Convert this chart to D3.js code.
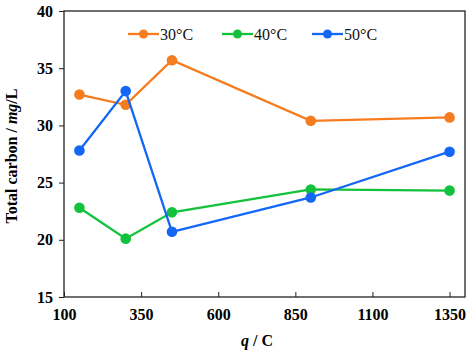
<!DOCTYPE html>
<html lang="en">
<head>
<meta charset="utf-8">
<title>Total carbon</title>
<script src="https://d3js.org/d3.v7.min.js"></script>
<style>
    body { margin: 0; background: #fff; }
</style>
</head>
<body>
<svg id="chart" width="470" height="353"></svg>
<script>
// data
let charge = [150, 300, 450, 900, 1350];
let t30 = [32.7, 31.8, 35.7, 30.4, 30.7];
let t40 = [22.8, 20.1, 22.4, 24.4, 24.3];
let t50 = [27.8, 33.0, 20.7, 23.7, 27.7];
let seriesNames = ["30°C", "40°C", "50°C"];
let xTicks = [100, 350, 600, 850, 1100, 1350];
let yTicks = [15, 20, 25, 30, 35, 40];

let serif = "'Liberation Serif', 'Times New Roman', serif";
let colors = ["#f57c1f", "#12c23c", "#1466f5"];
let margin = {left: 64, right: 5, top: 11, bottom: 56};
let width = 470, height = 353;

let svg = d3.select("#chart").attr("font-family", serif);

let x = d3.scaleLinear().domain([100, 1400]).range([margin.left, width - margin.right]);
let y = d3.scaleLinear().domain([15, 40]).range([height - margin.bottom, margin.top]);

// frame
svg.append("rect")
    .attr("x", x(100)).attr("y", y(40))
    .attr("width", x(1400) - x(100)).attr("height", y(15) - y(40))
    .attr("fill", "none").attr("stroke", "#222").attr("stroke-width", 1.3);

// x axis, ticks pointing in
let xAxis = svg.append("g")
    .attr("transform", "translate(0," + y(15) + ")")
    .call(d3.axisBottom(x).tickValues(xTicks).tickFormat(d3.format("d"))
        .tickSizeInner(-5).tickSizeOuter(0).tickPadding(12));
xAxis.attr("font-family", serif);
xAxis.select(".domain").remove();
xAxis.selectAll("text").attr("font-size", 16).attr("font-weight", "bold").attr("fill", "#000");
xAxis.selectAll("line").attr("stroke", "#222");

// y axis, ticks pointing out
let yAxis = svg.append("g")
    .attr("transform", "translate(" + x(100) + ",0)")
    .call(d3.axisLeft(y).tickValues(yTicks).tickSizeInner(5).tickSizeOuter(0).tickPadding(6));
yAxis.attr("font-family", serif);
yAxis.select(".domain").remove();
yAxis.selectAll("text").attr("font-size", 16).attr("font-weight", "bold").attr("fill", "#000");
yAxis.selectAll("line").attr("stroke", "#222");

// series
let series = [t30, t40, t50].map((vals, i) => ({
    name: seriesNames[i],
    color: colors[i],
    pts: vals.map((v, j) => ({q: charge[j], v: v}))
}));

let line = d3.line().x(d => x(d.q)).y(d => y(d.v));

series.forEach(s => {
    svg.append("path")
        .datum(s.pts)
        .attr("d", line)
        .attr("fill", "none")
        .attr("stroke", s.color)
        .attr("stroke-width", 2.3);
    svg.selectAll(null)
        .data(s.pts)
        .enter().append("circle")
        .attr("cx", d => x(d.q))
        .attr("cy", d => y(d.v))
        .attr("r", 5.3)
        .attr("fill", s.color);
});

// legend
let legendX = [128, 222, 312];
series.forEach((s, i) => {
    let g = svg.append("g").attr("transform", "translate(" + legendX[i] + ",34)");
    g.append("line").attr("x1", 0).attr("x2", 31).attr("stroke", s.color).attr("stroke-width", 2.3);
    g.append("circle").attr("cx", 15.5).attr("r", 4.5).attr("fill", s.color);
    g.append("text").attr("x", 32).attr("y", 5.5)
        .attr("font-size", 16).attr("fill", "#111").text(s.name);
});

// axis titles
let xt = svg.append("text")
    .attr("x", 257).attr("y", 346)
    .attr("text-anchor", "middle")
    .attr("font-size", 16).attr("font-weight", "bold");
xt.append("tspan").attr("font-style", "italic").text("q");
xt.append("tspan").text(" / C");

let yt = svg.append("text")
    .attr("transform", "translate(17,156) rotate(-90)")
    .attr("text-anchor", "middle")
    .attr("font-size", 16).attr("font-weight", "bold");
yt.append("tspan").text("Total carbon / ");
yt.append("tspan").attr("font-style", "italic").text("mg");
yt.append("tspan").text("/L");
</script>
</body>
</html>
